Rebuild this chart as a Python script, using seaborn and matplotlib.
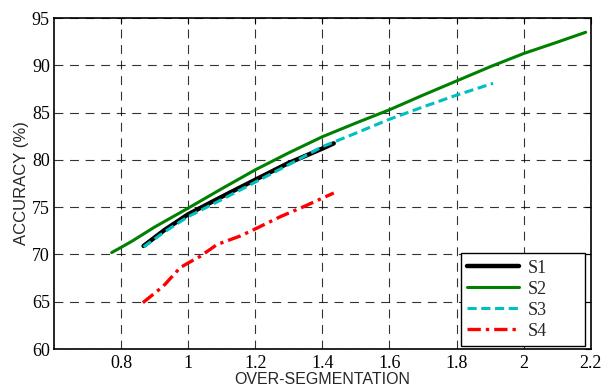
import numpy as np
import pandas as pd
import seaborn as sns
import matplotlib
matplotlib.use("Agg")
import matplotlib.pyplot as plt

sns.set_style("white")

# values
s1_x = [0.867, 0.93, 1.0, 1.1, 1.2, 1.295, 1.4, 1.434]
s1_y = [70.9, 72.6, 74.25, 76.1, 77.9, 79.6, 81.2, 81.75]

s2_x = [0.772, 0.80, 0.83, 0.9, 1.0, 1.1, 1.2, 1.3, 1.4, 1.5, 1.6, 1.7, 1.8, 1.9, 2.0, 2.1, 2.185]
s2_y = [70.2, 70.75, 71.35, 72.9, 74.9, 76.95, 78.95, 80.75, 82.45, 83.9, 85.3, 86.85, 88.35, 89.85, 91.25, 92.45, 93.5]

s3_x = [0.867, 0.93, 1.0, 1.1, 1.2, 1.3, 1.4, 1.484, 1.6, 1.7, 1.8, 1.909]
s3_y = [70.8, 72.4, 74.0, 75.8, 77.65, 79.5, 81.4, 82.6, 84.3, 85.6, 86.85, 88.1]

s4_x = [0.865, 0.926, 0.976, 1.0, 1.036, 1.086, 1.155, 1.2, 1.275, 1.344, 1.434]
s4_y = [64.9, 66.65, 68.6, 69.1, 69.8, 71.05, 71.95, 72.7, 74.0, 75.05, 76.5]

series = ["S1", "S2", "S3", "S4"]
colors = ["black", "green", "#00bfbf", "red"]
widths = [3.2, 2.2, 2.2, 2.4]
styles = ["-", "-", (0, (3, 1.5)), (0, (4, 1.5, 1, 1.5))]
data = [(s1_x, s1_y), (s2_x, s2_y), (s3_x, s3_y), (s4_x, s4_y)]

fig = plt.figure(figsize=(6.02, 3.85), dpi=100)
ax = fig.add_axes([0.0897, 0.0935, 0.8915, 0.8595])

for name, (xs, ys), c, lw, ls in zip(series, data, colors, widths, styles):
    df = pd.DataFrame({"x": xs, "y": ys})
    sns.lineplot(data=df, x="x", y="y", ax=ax, color=c, linewidth=lw,
                 linestyle=ls, sort=False, estimator=None, label=name)

ax.set_xlim(0.6, 2.2)
ax.set_ylim(60, 95)
ax.set_xticks([0.8, 1, 1.2, 1.4, 1.6, 1.8, 2, 2.2])
ax.set_xticklabels(["0.8", "1", "1.2", "1.4", "1.6", "1.8", "2", "2.2"])
ax.set_yticks(range(60, 96, 5))
ax.grid(True, color="black", linestyle=(0, (8, 6)), linewidth=0.8, alpha=0.8)
ax.tick_params(direction="in", length=4, width=0.8, colors="black",
               top=True, right=True)
ax.tick_params(axis="x", pad=4)
ax.tick_params(axis="y", pad=3)
for lab in ax.get_xticklabels() + ax.get_yticklabels():
    lab.set_family("Liberation Serif")
    lab.set_fontsize(13)
for sp in ax.spines.values():
    sp.set_color("black")
    sp.set_linewidth(1.2)

ax.set_xlabel("OVER-SEGMENTATION", family="Liberation Sans", fontsize=11.5, labelpad=0)
ax.set_ylabel("ACCURACY (%)", family="Liberation Sans", fontsize=12, labelpad=2)

leg = ax.legend(loc="lower left", bbox_to_anchor=(0.758, 0.009, 0.2316, 0.268),
                mode="expand", prop={"family": "Liberation Serif", "size": 13},
                fancybox=False, edgecolor="black", framealpha=1, handlelength=2.9,
                borderaxespad=0, labelspacing=0.22, borderpad=0.35, handletextpad=0.45)
leg.get_frame().set_linewidth(1.0)

fig.savefig("out.png", dpi=100)
